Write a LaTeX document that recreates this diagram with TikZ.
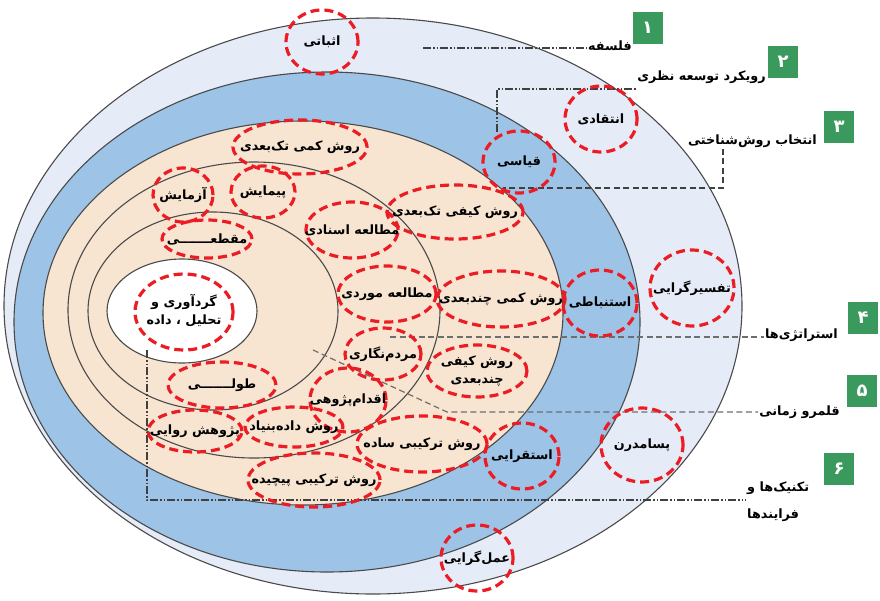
\documentclass[tikz,border=0pt]{standalone}
\usepackage{fontspec}
\usetikzlibrary{shapes.geometric}
\TeXXeTstate=1
\newfontfamily\fa[Script=Arabic]{DejaVu Sans}

\definecolor{ringlight}{HTML}{E6ECF7}
\definecolor{ringblue}{HTML}{9DC3E6}
\definecolor{ringbeige}{HTML}{F7E5D1}
\definecolor{ringline}{HTML}{4A4A4A}
\definecolor{tagred}{HTML}{EC1C24}
\definecolor{boxgreen}{HTML}{3A9A5E}
\definecolor{guidedark}{HTML}{404040}
\definecolor{guidemid}{HTML}{6E6E6E}

% one-line and two-line Persian labels, zero width so the ellipse keeps its set size
\newcommand{\faone}[1]{\makebox[0pt]{\fa\bfseries\beginR #1\endR}}
\newcommand{\fatwo}[2]{\makebox[0pt]{\fa\bfseries\begin{tabular}{@{}c@{}}#1\\[3pt]#2\end{tabular}}}

\tikzset{
  ring/.style={draw=ringline, line width=1.1pt},
  tag/.style={ellipse, draw=tagred, line width=3.2pt, dash pattern=on 9pt off 5pt,
    inner sep=0pt, font=\fontsize{12.8}{15}\selectfont},
  sidelabel/.style={inner sep=1pt, font=\fontsize{12.8}{15}\selectfont},
  numbox/.style={fill=boxgreen, text=white, minimum width=30pt, minimum height=32pt,
    inner sep=0pt, font=\fontsize{18}{18}\selectfont},
  dotdashline/.style={draw=guidedark, line width=1.1pt,
    dash pattern=on 8pt off 2pt on 1.5pt off 2pt on 1.5pt off 2pt},
  dashline/.style={draw=guidemid, line width=1.2pt, dash pattern=on 6pt off 3.5pt},
}

\begin{document}
\begin{tikzpicture}[x=1pt,y=-1pt]
\useasboundingbox (0,0) rectangle (880,600);
\fill[white] (0,0) rectangle (880,600);

% the nested layers of the onion
\draw[ring, fill=ringlight] (373,306) ellipse [x radius=369pt, y radius=288pt];
\draw[ring, fill=ringblue]  (327,322) ellipse [x radius=313pt, y radius=250pt];
\draw[ring, fill=ringbeige] (303,313) ellipse [x radius=260pt, y radius=192pt];
\draw[ring, fill=ringbeige] (254,310) ellipse [x radius=186pt, y radius=148pt];
\draw[ring, fill=ringbeige] (213,311) ellipse [x radius=125pt, y radius=99pt];
\draw[ring, fill=white]     (182,311) ellipse [x radius=75pt,  y radius=52pt];

% layer labels and their numbers
\node[sidelabel, anchor=east] (l1) at (633,46) {\fa\bfseries\beginR فلسفه\endR};
\node[sidelabel, anchor=east] (l2) at (767,77) {\fa\bfseries\beginR رویکرد توسعه نظری\endR};
\node[sidelabel, anchor=east] (l3) at (818,141) {\fa\bfseries\beginR انتخاب روش‌شناختی\endR};
\node[sidelabel, anchor=east] (l4) at (839,335) {\fa\bfseries\beginR استراتژی‌ها\endR};
\node[sidelabel, anchor=east] (l5) at (841,412) {\fa\bfseries\beginR قلمرو زمانی\endR};
\node[sidelabel, anchor=west] (l6a) at (746,488) {\fa\bfseries\beginR تکنیک‌ها و\endR};
\node[sidelabel, anchor=west] (l6b) at (746,515) {\fa\bfseries\beginR فرایندها\endR};

\node[numbox] (n1) at (647.5,27.5) {\fa\bfseries ۱};
\node[numbox] (n2) at (783,61.5)   {\fa\bfseries ۲};
\node[numbox] (n3) at (839,126.5)  {\fa\bfseries ۳};
\node[numbox] (n4) at (863,318)    {\fa\bfseries ۴};
\node[numbox] (n5) at (862,391)    {\fa\bfseries ۵};
\node[numbox] (n6) at (839,469)    {\fa\bfseries ۶};

% guide lines from the layers to their labels
\coordinate (g1) at (423,48);
\draw[dotdashline] (g1) -- (g1 -| l1.west);

\coordinate (g2a) at (497,132);
\coordinate (g2b) at (497,89);
\draw[dotdashline] (g2a) -- (g2b) -- (g2b -| l2.west);

\coordinate (g3b) at (723,188);
\coordinate (g3c) at (503,188);
\draw[dashline, draw=guidedark] (l3.south -| g3b) -- (g3b) -- (g3c);

\coordinate (g4) at (390,337);
\draw[dashline] (g4) -- (g4 -| l4.west);

\coordinate (g5a) at (313,350);
\coordinate (g5b) at (447,412);
\draw[dashline] (g5a) -- (g5b) -- (g5b -| l5.west);

\coordinate (g6a) at (147,350);
\coordinate (g6b) at (147,500);
\draw[dotdashline] (g6a) -- (g6b) -- (g6b -| l6a.west);

% highlighted choices
\node[tag, minimum width=72pt,  minimum height=64pt] (posit)      at (322,42)  {\faone{اثباتی}};
\node[tag, minimum width=72pt,  minimum height=66pt] (critic)     at (601,119) {\faone{انتقادی}};
\node[tag, minimum width=72pt,  minimum height=62pt] (deduct)     at (519,162) {\faone{قیاسی}};
\node[tag, minimum width=134pt, minimum height=54pt] (quantmono)  at (300,147) {\faone{روش کمی تک‌بعدی}};
\node[tag, minimum width=60pt,  minimum height=54pt] (experim)    at (183,195) {\faone{آزمایش}};
\node[tag, minimum width=64pt,  minimum height=52pt] (survey)     at (263,192) {\faone{پیمایش}};
\node[tag, minimum width=136pt, minimum height=54pt] (qualmono)   at (455,212) {\faone{روش کیفی تک‌بعدی}};
\node[tag, minimum width=92pt,  minimum height=56pt] (archival)   at (352,230) {\faone{مطالعه اسنادی}};
\node[tag, minimum width=90pt,  minimum height=38pt] (crosssec)   at (207,239) {\faone{مقطعـــــــی}};
\node[tag, minimum width=98pt,  minimum height=76pt] (core)       at (184,312)
  {\fatwo{\beginR گردآوری و\endR}{\beginR تحلیل ، داده\endR}};
\node[tag, minimum width=98pt,  minimum height=56pt] (casestudy)  at (387,294) {\faone{مطالعه موردی}};
\node[tag, minimum width=128pt, minimum height=56pt] (quantmulti) at (501,299) {\faone{روش کمی چندبعدی}};
\node[tag, minimum width=74pt,  minimum height=66pt] (inferent)   at (600,303) {\faone{استنباطی}};
\node[tag, minimum width=84pt,  minimum height=76pt] (interpret)  at (692,288) {\faone{تفسیرگرایی}};
\node[tag, minimum width=76pt,  minimum height=52pt] (ethno)      at (383,354) {\faone{مردم‌نگاری}};
\node[tag, minimum width=100pt, minimum height=52pt] (qualmulti)  at (477,371)
  {\fatwo{\beginR روش کیفی\endR}{\beginR چندبعدی\endR}};
\node[tag, minimum width=76pt,  minimum height=64pt] (actionres)  at (348,400) {\faone{اقدام‌پژوهی}};
\node[tag, minimum width=108pt, minimum height=46pt] (longit)     at (222,385) {\faone{طولـــــــی}};
\node[tag, minimum width=94pt,  minimum height=42pt] (narrative)  at (195,431) {\faone{پژوهش روایی}};
\node[tag, minimum width=98pt,  minimum height=40pt] (grounded)   at (294,427) {\faone{روش داده‌بنیاد}};
\node[tag, minimum width=130pt, minimum height=56pt] (mixsimple)  at (422,444) {\faone{روش ترکیبی ساده}};
\node[tag, minimum width=74pt,  minimum height=66pt] (induct)     at (522,456) {\faone{استقرایی}};
\node[tag, minimum width=132pt, minimum height=54pt] (mixcomplex) at (314,480) {\faone{روش ترکیبی پیچیده}};
\node[tag, minimum width=82pt,  minimum height=74pt] (postmod)    at (642,445) {\faone{پسامدرن}};
\node[tag, minimum width=72pt,  minimum height=66pt] (pragm)      at (477,558) {\faone{عمل‌گرایی}};
\end{tikzpicture}
\end{document}
